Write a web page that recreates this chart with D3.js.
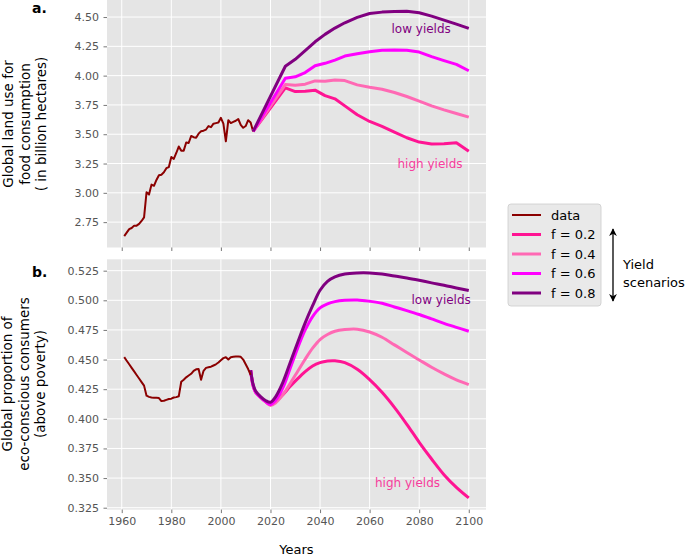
<!DOCTYPE html>
<html><head><meta charset="utf-8">
<script src="https://cdn.jsdelivr.net/npm/d3@7"></script>
<style>body{margin:0;background:#fff}svg{display:block;font-family:"DejaVu Sans",sans-serif}</style>
</head><body>
<script>
// ---------- data ----------
const histYearsA = d3.range(1961, 2014);
const landData = [2.631,2.66,2.69,2.70,2.72,2.72,2.735,2.76,2.79,3.005,2.985,3.07,3.06,3.11,3.15,3.155,3.175,3.21,3.22,3.305,3.29,3.34,3.395,3.36,3.36,3.43,3.425,3.485,3.475,3.47,3.505,3.525,3.53,3.54,3.57,3.56,3.59,3.595,3.60,3.64,3.59,3.44,3.62,3.595,3.605,3.615,3.63,3.58,3.555,3.57,3.62,3.60,3.524];
const scenYearsA = [2013,2026,2030,2034,2038,2042,2046,2050,2055,2060,2065,2070,2075,2080,2085,2090,2095,2100];
const landF02 = [3.524,3.895,3.864,3.867,3.876,3.830,3.802,3.742,3.666,3.609,3.567,3.518,3.470,3.433,3.416,3.419,3.428,3.354];
const landF04 = [3.524,3.924,3.918,3.927,3.955,3.952,3.963,3.958,3.921,3.901,3.884,3.856,3.822,3.782,3.742,3.708,3.677,3.646];
const landF06 = [3.524,3.977,3.990,4.026,4.085,4.105,4.133,4.167,4.187,4.204,4.216,4.218,4.216,4.201,4.162,4.128,4.096,4.042];
const landF08 = [3.524,4.080,4.139,4.213,4.289,4.352,4.406,4.451,4.497,4.530,4.542,4.547,4.550,4.536,4.508,4.474,4.440,4.403];

const histYearsB = d3.range(1961, 2013);
const ecoData = [0.452,0.449,0.446,0.443,0.440,0.437,0.434,0.431,0.428,0.4195,0.4185,0.418,0.4177,0.4177,0.4175,0.415,0.4152,0.416,0.4167,0.417,0.418,0.4183,0.419,0.4313,0.433,0.435,0.4365,0.438,0.4405,0.4418,0.442,0.433,0.4405,0.443,0.4435,0.444,0.445,0.446,0.4475,0.4495,0.4512,0.452,0.450,0.452,0.4523,0.4525,0.4525,0.4523,0.450,0.446,0.442,0.437];
const scenYearsB = [2012,2013,2014,2016,2018,2020,2022,2025,2028,2031,2034,2037,2040,2043,2046,2050,2055,2060,2065,2070,2075,2080,2085,2090,2095,2100];
const ecoF02 = [0.441,0.428,0.4225,0.418,0.4145,0.4117,0.4142,0.4204,0.4274,0.4339,0.4398,0.4446,0.4474,0.4488,0.449,0.4474,0.4418,0.4331,0.4224,0.4097,0.3954,0.3802,0.3661,0.3529,0.3422,0.3333];
const ecoF04 = [0.441,0.428,0.4225,0.418,0.4145,0.4114,0.4134,0.4204,0.430,0.4402,0.4503,0.4596,0.4669,0.4711,0.4739,0.4753,0.4756,0.4733,0.4688,0.4624,0.4559,0.4497,0.4435,0.4379,0.4328,0.4288];
const ecoF06 = [0.441,0.428,0.4225,0.418,0.4145,0.412,0.4154,0.4261,0.443,0.4599,0.475,0.4863,0.4936,0.497,0.4989,0.500,0.5003,0.4992,0.4975,0.4944,0.4913,0.488,0.4843,0.4806,0.4772,0.4739];
const ecoF08 = [0.441,0.429,0.4235,0.4188,0.4155,0.414,0.4184,0.4308,0.4477,0.4646,0.481,0.4955,0.5085,0.5160,0.5198,0.5222,0.5231,0.5231,0.5222,0.5205,0.5189,0.5169,0.5147,0.5127,0.5104,0.5082];

const xTicks = [1960,1980,2000,2020,2040,2060,2080,2100];
const yTicksA = [2.75,3.00,3.25,3.50,3.75,4.00,4.25,4.50];
const yTicksB = [0.325,0.350,0.375,0.400,0.425,0.450,0.475,0.500,0.525];
const legendLabels = ["data","f = 0.2","f = 0.4","f = 0.6","f = 0.8"];
const colors = ["#8b0000","#ff1493","#ff69b4","#ff00ff","#800080"];

// ---------- drawing ----------
const W = 685, H = 560;
const svg = d3.select("body").append("svg").attr("width", W).attr("height", H);

const x = d3.scaleLinear().domain([1954.05, 2106.95]).range([107, 486]);
const yA = d3.scaleLinear().domain([2.5335, 4.6565]).range([247.5, -1.3]);
const yB = d3.scaleLinear().domain([0.3234, 0.5346]).range([509.6, 259.3]);

function panel(y, yTicks, fmt, showX) {
  const g = svg.append("g");
  const [y0, y1] = y.range();
  g.append("rect").attr("x", x.range()[0]).attr("y", y1).attr("width", x.range()[1]-x.range()[0]).attr("height", y0-y1).attr("fill", "#e5e5e5");
  g.selectAll(".gx").data(xTicks).join("line").attr("x1", d=>x(d)).attr("x2", d=>x(d)).attr("y1", y0).attr("y2", y1).attr("stroke", "#fff").attr("stroke-width", 1);
  g.selectAll(".gy").data(yTicks).join("line").attr("x1", x.range()[0]).attr("x2", x.range()[1]).attr("y1", d=>y(d)).attr("y2", d=>y(d)).attr("stroke", "#fff").attr("stroke-width", 1);
  const ax = svg.append("g").attr("transform", `translate(0,${y0})`)
    .call(d3.axisBottom(x).tickValues(xTicks).tickSize(3.5).tickPadding(4).tickFormat(showX ? d3.format("d") : ""));
  const ay = svg.append("g").attr("transform", `translate(${x.range()[0]},0)`)
    .call(d3.axisLeft(y).tickValues(yTicks).tickSize(3.5).tickPadding(4.5).tickFormat(d3.format(fmt)));
  [ax, ay].forEach(a => {
    a.select(".domain").remove();
    a.selectAll(".tick line").attr("stroke", "#555").attr("stroke-width", 0.8);
    a.selectAll(".tick text").attr("fill", "#555").style("font-size", "11px").style("font-family", "DejaVu Sans");
  });
  return g;
}

panel(yA, yTicksA, ".2f", false);
panel(yB, yTicksB, ".3f", true);

function drawLine(xs, ys, y, color, width, curve) {
  const pts = xs.map((d,i)=>[d, ys[i]]);
  svg.append("path").datum(pts)
    .attr("d", d3.line().x(d=>x(d[0])).y(d=>y(d[1])).curve(curve))
    .attr("fill","none").attr("stroke", color).attr("stroke-width", width)
    .attr("stroke-linejoin","round").attr("stroke-linecap","butt");
}

drawLine(histYearsA, landData, yA, colors[0], 2, d3.curveLinear);
[landF02, landF04, landF06, landF08].forEach((s,i)=>drawLine(scenYearsA, s, yA, colors[i+1], 3, d3.curveLinear));
[ecoF02, ecoF04, ecoF06, ecoF08].forEach((s,i)=>drawLine(scenYearsB, s, yB, colors[i+1], 3, d3.curveCatmullRom.alpha(0.5)));
drawLine(histYearsB, ecoData, yB, colors[0], 2, d3.curveLinear);

// annotations
const ann = [
  {t:"low yields", x:391.5, y:33, c:"#800080"},
  {t:"high yields", x:397.5, y:168, c:"#f73c9c"},
  {t:"low yields", x:411.5, y:303.5, c:"#800080"},
  {t:"high yields", x:375, y:486.5, c:"#f73c9c"}
];
svg.selectAll(".ann").data(ann).join("text").attr("x", d=>d.x).attr("y", d=>d.y)
  .attr("fill", d=>d.c).style("font-size","12px").text(d=>d.t);

// panel letters
svg.append("text").attr("x", 32).attr("y", 12.7).style("font-size","14px").style("font-weight","bold").text("a.");
svg.append("text").attr("x", 32).attr("y", 276.5).style("font-size","14px").style("font-weight","bold").text("b.");

// y axis labels
function yLabel(lines, cy, xs) {
  lines.forEach((l,i)=>{
    svg.append("text").attr("transform", `translate(${xs[i]},${cy}) rotate(-90)`)
      .attr("text-anchor","middle").style("font-size","13.5px").attr("fill","#000").text(l);
  });
}
yLabel(["Global land use for","food consumption","( in billion hectares)"], 124, [13, 29.5, 46]);
yLabel(["Global proportion of","eco-conscious consumers","(above poverty)"], 384, [12, 28.5, 45]);

// x label
svg.append("text").attr("x", 296.5).attr("y", 554).attr("text-anchor","middle").style("font-size","13px").text("Years");

// legend
const lg = svg.append("g");
lg.append("rect").attr("x", 508).attr("y", 204).attr("width", 93).attr("height", 102).attr("rx", 3)
  .attr("fill", "#e9e9e9").attr("stroke", "#cccccc").attr("stroke-width", 0.8);
const ly = d3.scalePoint().domain(legendLabels).range([215, 293]);
legendLabels.forEach((l,i)=>{
  lg.append("line").attr("x1", 512).attr("x2", 541).attr("y1", ly(l)).attr("y2", ly(l))
    .attr("stroke", colors[i]).attr("stroke-width", i===0 ? 2 : 3);
  lg.append("text").attr("x", 551).attr("y", ly(l)).attr("dy","0.35em").style("font-size","13px").text(l);
});

// arrow
const defs = svg.append("defs");
defs.append("marker").attr("id","ah").attr("viewBox","0 0 10 10").attr("refX",9).attr("refY",5)
  .attr("markerWidth",6).attr("markerHeight",7).attr("orient","auto-start-reverse")
  .append("path").attr("d","M0,0 L10,5 L0,10 L3,5 Z").attr("fill","#000");
svg.append("line").attr("x1",613).attr("x2",613).attr("y1",229).attr("y2",301)
  .attr("stroke","#000").attr("stroke-width",1.3)
  .attr("marker-start","url(#ah)").attr("marker-end","url(#ah)");
svg.append("text").attr("x",623).attr("y",269).style("font-size","13px").text("Yield");
svg.append("text").attr("x",623).attr("y",287).style("font-size","13px").text("scenarios");
</script>
</body></html>
